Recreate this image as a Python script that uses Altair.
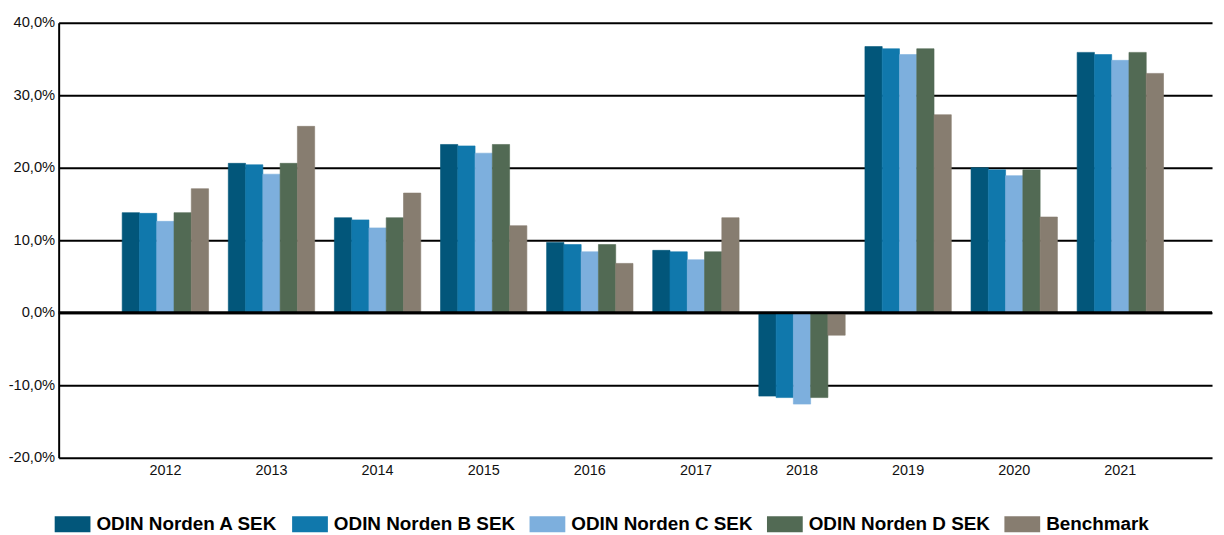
import altair as alt
import pandas as pd

years = ["2012", "2013", "2014", "2015", "2016", "2017", "2018", "2019", "2020", "2021"]
series = ["ODIN Norden A SEK", "ODIN Norden B SEK", "ODIN Norden C SEK", "ODIN Norden D SEK", "Benchmark"]
colors = ["#02567A", "#1078AC", "#7DAFDD", "#526A54", "#877D70"]

norden_a = [13.8, 20.6, 13.1, 23.2, 9.7, 8.6, -11.5, 36.7, 20.0, 35.9]
norden_b = [13.7, 20.4, 12.8, 23.0, 9.4, 8.4, -11.7, 36.4, 19.7, 35.6]
norden_c = [12.6, 19.1, 11.7, 22.0, 8.4, 7.3, -12.6, 35.6, 18.9, 34.8]
norden_d = [13.8, 20.6, 13.1, 23.2, 9.4, 8.4, -11.7, 36.4, 19.7, 35.9]
benchmark = [17.1, 25.7, 16.5, 12.0, 6.8, 13.1, -3.1, 27.3, 13.2, 33.0]

y_ticks = [-20, -10, 0, 10, 20, 30, 40]

rows = []
for name, vals in zip(series, [norden_a, norden_b, norden_c, norden_d, benchmark]):
    for yr, v in zip(years, vals):
        rows.append({"year": yr, "series": name, "value": v})
df = pd.DataFrame(rows)

label_expr = "(datum.value < 0 ? '-' : '') + replace(format(abs(datum.value), '.1f'), '.', ',') + '%'"

bars = alt.Chart(df).mark_bar(strokeWidth=0.6).encode(
    x=alt.X("year:N", sort=years,
            scale=alt.Scale(paddingInner=0.186, paddingOuter=0.528, align=0.567),
            axis=alt.Axis(title=None, labelAngle=0, ticks=False, domain=False, grid=False,
                          labelFont="Liberation Sans", labelFontSize=14.5, labelColor="#111111",
                          labelPadding=6)),
    xOffset=alt.XOffset("series:N", sort=series,
                        scale=alt.Scale(paddingInner=0, paddingOuter=0)),
    y=alt.Y("value:Q",
            scale=alt.Scale(domain=[-20, 40], nice=False, zero=False),
            axis=alt.Axis(title=None, values=y_ticks, labelExpr=label_expr, ticks=False,
                          domain=True, domainColor="#000000", domainWidth=2,
                          grid=True, gridColor="#000000", gridWidth=2, gridOpacity=1,
                          labelFont="Liberation Sans", labelFontSize=14.8, labelColor="#111111",
                          labelPadding=4)),
    color=alt.Color("series:N", sort=series,
                    scale=alt.Scale(domain=series, range=colors),
                    legend=alt.Legend(title=None, orient="none", legendX=-4, legendY=487,
                                      direction="horizontal", columns=5, padding=0,
                                      symbolType="M-1,-0.45H1V0.45H-1Z", symbolSize=1296,
                                      symbolStrokeWidth=0, symbolOpacity=1,
                                      labelFont="Liberation Sans", labelFontSize=19,
                                      labelFontWeight="bold", labelColor="#000000",
                                      labelOffset=6, columnPadding=14, labelLimit=400)),
    stroke=alt.Stroke("series:N", sort=series,
                      scale=alt.Scale(domain=series, range=colors), legend=None),
)

zero_df = pd.DataFrame({"z": [0]})
zero_rule = alt.Chart(zero_df).mark_rule(color="#000000", strokeWidth=3).encode(y="z:Q")

chart = alt.layer(bars, zero_rule).properties(
    width=1161, height=438,
    autosize=alt.AutoSizeParams(type="none"),
    padding={"left": 51, "top": 13, "right": 4, "bottom": 76},
).configure_view(strokeWidth=0)

chart.save("out.html", embed_options={"renderer": "svg", "actions": False})
